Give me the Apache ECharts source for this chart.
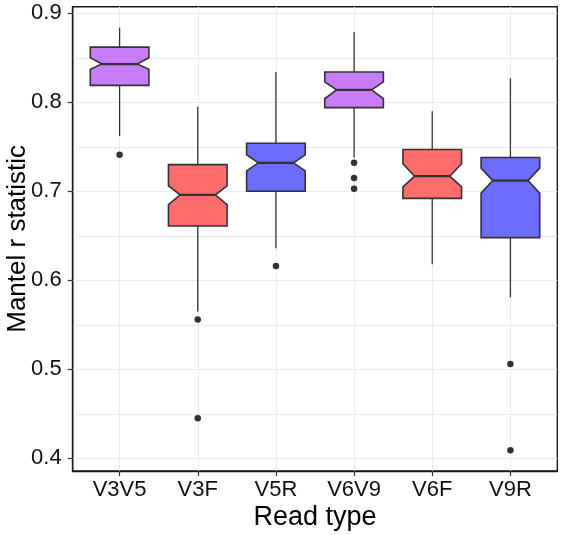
<!DOCTYPE html>
<html><head><meta charset="utf-8">
<script src="https://cdn.jsdelivr.net/npm/echarts@6/dist/echarts.min.js"></script>
<style>html,body{margin:0;padding:0;background:#fff}#c{width:564px;height:535px}</style>
</head><body><div id="c"></div>
<script>
// ---- data ----
const categories  = ['V3V5', 'V3F', 'V5R', 'V6V9', 'V6F', 'V9R'];
const whiskerLow  = [0.762, 0.565, 0.636, 0.738, 0.618, 0.581];
const q1          = [0.819, 0.661, 0.700, 0.794, 0.692, 0.648];
const notchLow    = [0.837, 0.685, 0.723, 0.804, 0.705, 0.698];
const median      = [0.843, 0.696, 0.732, 0.814, 0.717, 0.712];
const notchHigh   = [0.850, 0.706, 0.741, 0.823, 0.731, 0.726];
const q3          = [0.862, 0.730, 0.754, 0.834, 0.747, 0.738];
const whiskerHigh = [0.884, 0.795, 0.834, 0.879, 0.790, 0.827];
const outlierCat  = ['V3V5', 'V3F', 'V3F', 'V5R', 'V6V9', 'V6V9', 'V6V9', 'V9R', 'V9R'];
const outlierVal  = [0.741, 0.556, 0.445, 0.616, 0.732, 0.715, 0.703, 0.506, 0.409];
const yTicks      = [0.4, 0.5, 0.6, 0.7, 0.8, 0.9];
const yGrid       = [0.4, 0.45, 0.5, 0.55, 0.6, 0.65, 0.7, 0.75, 0.8, 0.85, 0.9];

// ---- styles ----
const fillByCat = {
  V3V5: 'rgb(199,125,248)', V6V9: 'rgb(199,125,248)',
  V3F: 'rgb(255,108,108)', V6F: 'rgb(255,108,108)',
  V5R: 'rgb(108,108,255)', V9R: 'rgb(108,108,255)'
};
const FONT = 'Liberation Sans, Arial, Helvetica, sans-serif';
const xPos = categories.map((c, i) => i + 1);

const boxData = categories.map((c, i) => [xPos[i], whiskerLow[i], q1[i], notchLow[i], median[i], notchHigh[i], q3[i], whiskerHigh[i]]);
const outData = outlierCat.map((c, i) => [categories.indexOf(c) + 1, outlierVal[i]]);

const chart = echarts.init(document.getElementById('c'), null, {renderer: 'canvas'});
chart.setOption({
  animation: false,
  backgroundColor: '#fff',
  grid: {left: 72.7, right: 6.7, top: 6.7, bottom: 64, show: true, containLabel: false,
         outerBoundsMode: 'none',
         borderColor: '#1a1a1a', borderWidth: 1.4, backgroundColor: 'transparent'},
  xAxis: {
    type: 'value', min: 0.4, max: 6.6,
    axisLine: {show: true, lineStyle: {color: '#1a1a1a', width: 1.4}},
    axisTick: {show: true, customValues: xPos, length: 5, lineStyle: {color: '#333', width: 1.2}},
    axisLabel: {show: true, customValues: xPos, margin: 8, fontSize: 22, color: '#111', fontFamily: FONT,
                formatter: v => categories[Math.round(v) - 1]},
    splitLine: {show: true, lineStyle: {color: '#ebebeb', width: 1}},
    name: 'Read type', nameLocation: 'middle', nameGap: 33, nameMoveOverlap: false,
    nameTextStyle: {fontSize: 27, color: '#000', fontFamily: FONT}
  },
  yAxis: [{
    type: 'value', min: 0.38573, max: 0.90742,
    axisLine: {show: true, lineStyle: {color: '#1a1a1a', width: 1.4}},
    axisTick: {show: true, customValues: yTicks, length: 5, lineStyle: {color: '#333', width: 1.2}},
    axisLabel: {show: true, customValues: yTicks, margin: 11, fontSize: 22, color: '#111', fontFamily: FONT,
                formatter: v => v.toFixed(1)},
    splitLine: {show: false},
    name: 'Mantel r statistic', nameLocation: 'middle', nameGap: 42, nameMoveOverlap: false,
    nameTextStyle: {fontSize: 26, color: '#000', fontFamily: FONT}
  }, {
    type: 'value', min: 0.38573, max: 0.90742, position: 'left',
    axisLine: {show: false}, axisLabel: {show: false},
    axisTick: {show: false, customValues: yGrid},
    splitLine: {show: true, lineStyle: {color: '#ebebeb', width: 1}}
  }],
  series: [{
    type: 'custom',
    xAxisIndex: 0, yAxisIndex: 0,
    data: boxData,
    encode: {x: 0, y: [1, 2, 3, 4, 5, 6, 7]},
    z: 3,
    renderItem: function (params, api) {
      const x = api.value(0);
      const wl = api.value(1), lo = api.value(2), nl = api.value(3), md = api.value(4),
            nh = api.value(5), hi = api.value(6), wh = api.value(7);
      const half = 0.375, ni = 0.6 * 0.375;
      const P = (dx, v) => api.coord([x + dx, v]);
      const fill = fillByCat[categories[params.dataIndex]];
      const a = P(0, hi), b = P(0, wh), c = P(0, lo), d = P(0, wl);
      const m1 = P(-ni, md), m2 = P(ni, md);
      return {
        type: 'group',
        children: [
          {type: 'line', shape: {x1: a[0], y1: a[1], x2: b[0], y2: b[1]}, style: {stroke: '#333', lineWidth: 1.3}},
          {type: 'line', shape: {x1: c[0], y1: c[1], x2: d[0], y2: d[1]}, style: {stroke: '#333', lineWidth: 1.3}},
          {type: 'polygon', shape: {points: [
            P(-half, hi), P(half, hi), P(half, nh), P(ni, md), P(half, nl), P(half, lo),
            P(-half, lo), P(-half, nl), P(-ni, md), P(-half, nh)
          ]}, style: {fill: fill, stroke: '#333', lineWidth: 1.6, lineJoin: 'miter'}},
          {type: 'line', shape: {x1: m1[0], y1: m1[1], x2: m2[0], y2: m2[1]}, style: {stroke: '#333', lineWidth: 2.2}}
        ]
      };
    }
  }, {
    type: 'scatter',
    xAxisIndex: 0, yAxisIndex: 0,
    data: outData,
    symbol: 'circle', symbolSize: 6.5,
    itemStyle: {color: '#000'},
    z: 4
  }]
});
</script>
</body></html>
